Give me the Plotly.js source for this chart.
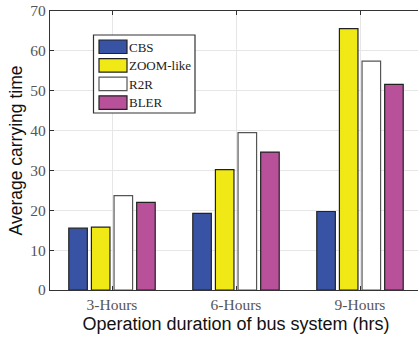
<!DOCTYPE html>
<html><head><meta charset="utf-8">
<script src="https://cdn.plot.ly/plotly-3.0.1.min.js"></script>
<style>html,body{margin:0;padding:0;overflow:hidden;background:#fff;width:418px;height:338px}</style>
</head><body><div id="chart" style="width:422px;height:338px"></div>
<script>
const categories = ['3-Hours', '6-Hours', '9-Hours'];
const seriesNames = ['CBS', 'ZOOM-like', 'R2R', 'BLER'];
const cbs = [15.5, 19.2, 19.7];
const zoomLike = [15.8, 30.2, 65.6];
const r2r = [23.7, 39.5, 57.4];
const bler = [22.0, 34.6, 51.6];
const yTicks = [0, 10, 20, 30, 40, 50, 60, 70];

const colors = ['#3953a4', '#f1e916', '#ffffff', '#b8509a'];
const outlines = ['#222', '#222', '#555', '#222'];
const values = [cbs, zoomLike, r2r, bler];

const W = 422, H = 338, L = 50, R = 0, T = 11, B = 48;
const pw = W - L - R, ph = H - T - B;
const px = x => (x - L) / pw;
const py = y => (H - B - y) / ph;

const traces = values.map((v, i) => ({
  type: 'bar', name: seriesNames[i], x: categories, y: v,
  marker: {color: colors[i], line: {color: outlines[i], width: 1.2}},
  showlegend: false, hoverinfo: 'skip'
}));

const shapes = [{type: 'rect', xref: 'paper', yref: 'paper',
  x0: px(93.5), x1: px(195), y0: py(35), y1: py(113),
  line: {color: '#333', width: 1.2}, fillcolor: '#fff', layer: 'above'}];
const annotations = [];
seriesNames.forEach((n, i) => {
  const top = 40 + i * 18.6;
  shapes.push({type: 'rect', xref: 'paper', yref: 'paper',
    x0: px(99), x1: px(127), y0: py(top), y1: py(top + 13.5),
    line: {color: outlines[i], width: 1.2}, fillcolor: colors[i], layer: 'above'});
  annotations.push({xref: 'paper', yref: 'paper', x: px(127), y: py(top + 7),
    xanchor: 'left', yanchor: 'middle', showarrow: false, text: n,
    font: {family: 'Liberation Serif, Times New Roman, serif', size: 13, color: '#222'}});
});

const layout = {
  width: W, height: H,
  margin: {l: L, r: R, t: T, b: B, pad: 0},
  paper_bgcolor: '#fff', plot_bgcolor: '#fff',
  barmode: 'group', bargap: 0.27, bargroupgap: 0.18,
  showlegend: false,
  xaxis: {
    type: 'category', range: [-0.5, 2.5],
    showline: true, linecolor: '#333', linewidth: 1.2, mirror: 'ticks',
    showgrid: true, gridcolor: '#e6e6e6', gridwidth: 1,
    ticks: 'inside', ticklen: 4, tickcolor: '#333',
    tickfont: {family: 'Liberation Serif, Times New Roman, serif', size: 15.5, color: '#555'},
    title: {text: 'Operation duration of bus system (hrs)', standoff: 5,
      font: {family: 'Liberation Sans, Arial, sans-serif', size: 18, color: '#111'}},
    zeroline: false
  },
  yaxis: {
    range: [0, 70], tickvals: yTicks,
    showline: true, linecolor: '#333', linewidth: 1.2, mirror: 'ticks',
    showgrid: true, gridcolor: '#e6e6e6', gridwidth: 1,
    ticks: 'inside', ticklen: 4, tickcolor: '#333',
    tickfont: {family: 'Liberation Serif, Times New Roman, serif', size: 15.5, color: '#555'},
    title: {text: 'Average carrying time', standoff: 3,
      font: {family: 'Liberation Sans, Arial, sans-serif', size: 17.5, color: '#111'}},
    zeroline: false
  },
  shapes: shapes, annotations: annotations
};

Plotly.newPlot('chart', traces, layout, {staticPlot: true, displayModeBar: false});
</script></body></html>
